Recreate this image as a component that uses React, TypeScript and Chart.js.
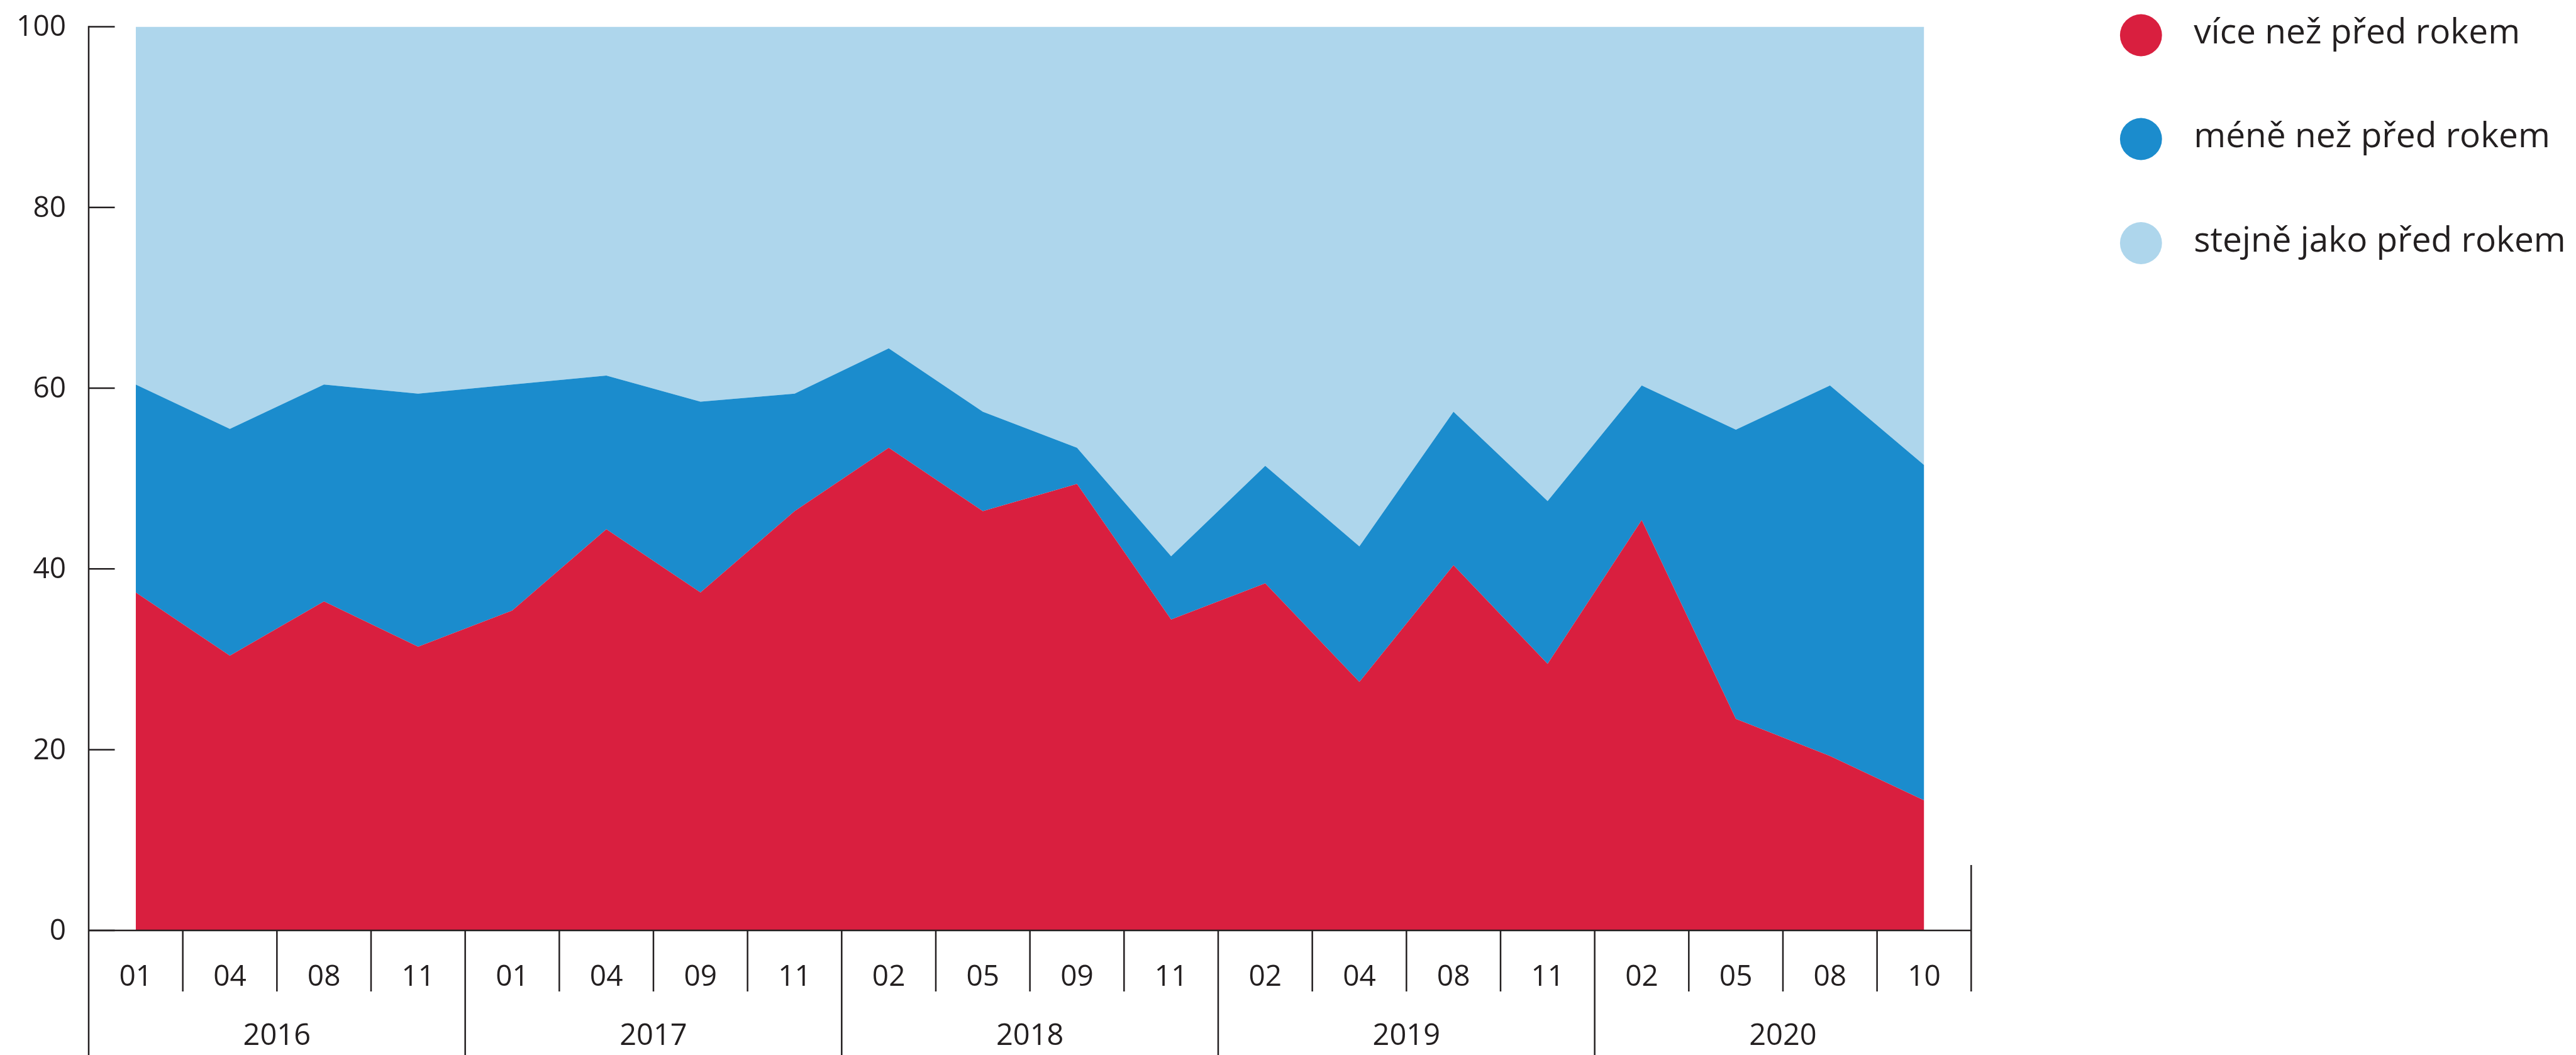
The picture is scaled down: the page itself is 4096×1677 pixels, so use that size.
import React, { useEffect, useRef } from 'react';
import { Chart, registerables } from 'chart.js';

Chart.register(...registerables);

// ---- data ----
const months = ['01', '04', '08', '11', '01', '04', '09', '11', '02', '05', '09', '11', '02', '04', '08', '11', '02', '05', '08', '10'];
const years = ['2016', '2017', '2018', '2019', '2020'];
const monthsPerYear = [4, 4, 4, 4, 4];
const seriesLabels = ['více než před rokem', 'méně než před rokem', 'stejně jako před rokem'];
const vice = [37.4, 30.4, 36.4, 31.4, 35.4, 44.4, 37.4, 46.4, 53.4, 46.4, 49.4, 34.4, 38.4, 27.5, 40.4, 29.5, 45.4, 23.4, 19.3, 14.4];
const mene = [23.0, 25.1, 24.0, 28.0, 25.0, 17.0, 21.1, 13.0, 11.0, 11.0, 4.0, 7.0, 13.0, 15.0, 17.0, 18.0, 14.9, 32.0, 41.0, 37.1];
const stejne = [39.9, 44.8, 39.9, 40.9, 39.9, 38.9, 41.8, 40.9, 35.9, 42.9, 46.9, 58.9, 48.9, 57.8, 42.9, 52.8, 40.0, 44.9, 40.0, 48.8];
const yTicks = [0, 20, 40, 60, 80, 100];

const COLORS = ['#D91F3F', '#1B8CCD', '#AED6EC'];
const INK = '#231F20';
const FONT = '"Open Sans", "Noto Sans", sans-serif';

const decorPlugin = {
  id: 'decor',
  afterDraw(chart: any) {
    const ctx = chart.ctx as CanvasRenderingContext2D;
    const xs = chart.scales.x;
    const ys = chart.scales.y;
    const ca = chart.chartArea;
    const left = ca.left;
    const right = ca.right;
    const bottom = ca.bottom;
    const H = chart.height;
    const band = xs.getPixelForValue(1) - xs.getPixelForValue(0);
    const line = (x1: number, y1: number, x2: number, y2: number) => {
      ctx.beginPath();
      ctx.moveTo(x1, y1);
      ctx.lineTo(x2, y2);
      ctx.stroke();
    };
    ctx.save();
    ctx.strokeStyle = INK;
    ctx.lineWidth = 2.5;
    ctx.lineCap = 'butt';

    // y axis line, inner ticks and labels
    const yTop = ys.getPixelForValue(100);
    line(left, yTop - 1.25, left, H);
    ctx.fillStyle = INK;
    ctx.font = `46px ${FONT}`;
    ctx.textAlign = 'right';
    ctx.textBaseline = 'alphabetic';
    yTicks.forEach((v) => {
      const py = ys.getPixelForValue(v);
      line(left, py, left + 41.5, py);
      ctx.fillText(String(v), left - 36, py + 15);
    });

    // x axis line
    line(left, bottom, right, bottom);

    // category boundaries
    const yearBounds = new Set<number>();
    let acc = 0;
    monthsPerYear.forEach((n) => { acc += n; yearBounds.add(acc); });
    for (let i = 1; i <= months.length; i++) {
      const bx = xs.getPixelForValue(i - 1) + band / 2;
      if (i === months.length) {
        line(bx, bottom - 104, bx, bottom + 97);
      } else if (yearBounds.has(i)) {
        line(bx, bottom, bx, H);
      } else {
        line(bx, bottom, bx, bottom + 97);
      }
    }

    // month labels
    ctx.textAlign = 'center';
    ctx.font = `46px ${FONT}`;
    months.forEach((m, i) => {
      ctx.fillText(m, xs.getPixelForValue(i), bottom + 88);
    });

    // year labels
    ctx.font = `47px ${FONT}`;
    let start = 0;
    years.forEach((yv, k) => {
      const n = monthsPerYear[k];
      const cx = (xs.getPixelForValue(start) + xs.getPixelForValue(start + n - 1)) / 2;
      ctx.fillText(yv, cx, bottom + 182);
      start += n;
    });

    // legend
    ctx.font = `55px ${FONT}`;
    ctx.textAlign = 'left';
    const legY = [56, 221, 386.5];
    chart.data.datasets.forEach((ds: any, i: number) => {
      ctx.fillStyle = ds.backgroundColor;
      ctx.beginPath();
      ctx.arc(right + 270, legY[i], 33.4, 0, Math.PI * 2);
      ctx.fill();
      ctx.fillStyle = INK;
      ctx.fillText(ds.label, right + 354, legY[i] + 13);
    });
    ctx.restore();
  },
};

export default function App() {
  const ref = useRef<HTMLCanvasElement | null>(null);

  useEffect(() => {
    document.body.style.margin = '0';
    document.body.style.overflow = 'hidden';
    if (!ref.current) return;
    const mk = (label: string, data: number[], color: string, fill: any) => ({
      label,
      data,
      backgroundColor: color,
      borderColor: 'rgba(0,0,0,0)',
      borderWidth: 0,
      pointRadius: 0,
      pointHoverRadius: 0,
      tension: 0,
      fill,
      clip: false as any,
    });
    const chart = new Chart(ref.current, {
      type: 'line',
      data: {
        labels: months,
        datasets: [
          mk(seriesLabels[0], vice, COLORS[0], 'origin'),
          mk(seriesLabels[1], mene, COLORS[1], '-1'),
          mk(seriesLabels[2], stejne, COLORS[2], '-1'),
        ],
      },
      options: {
        animation: false,
        responsive: true,
        maintainAspectRatio: false,
        layout: { padding: { top: 42.4, right: 961.7, bottom: 0, left: 0 } },
        plugins: { legend: { display: false }, tooltip: { enabled: false } },
        scales: {
          x: {
            type: 'category',
            offset: true,
            grid: { display: false },
            border: { display: false },
            ticks: { display: false },
            afterFit: (s: any) => { s.height = 198; },
          },
          y: {
            stacked: true,
            min: 0,
            max: 100,
            grid: { display: false, drawTicks: false },
            border: { display: false },
            afterFit: (s: any) => { s.width = 141; },
            ticks: { display: false, stepSize: 20 },
          },
        },
      },
      plugins: [decorPlugin],
    });
    return () => chart.destroy();
  }, []);

  return (
    <div style={{ position: 'relative', width: '4096px', height: '1677px' }}>
      <canvas ref={ref} />
    </div>
  );
}
